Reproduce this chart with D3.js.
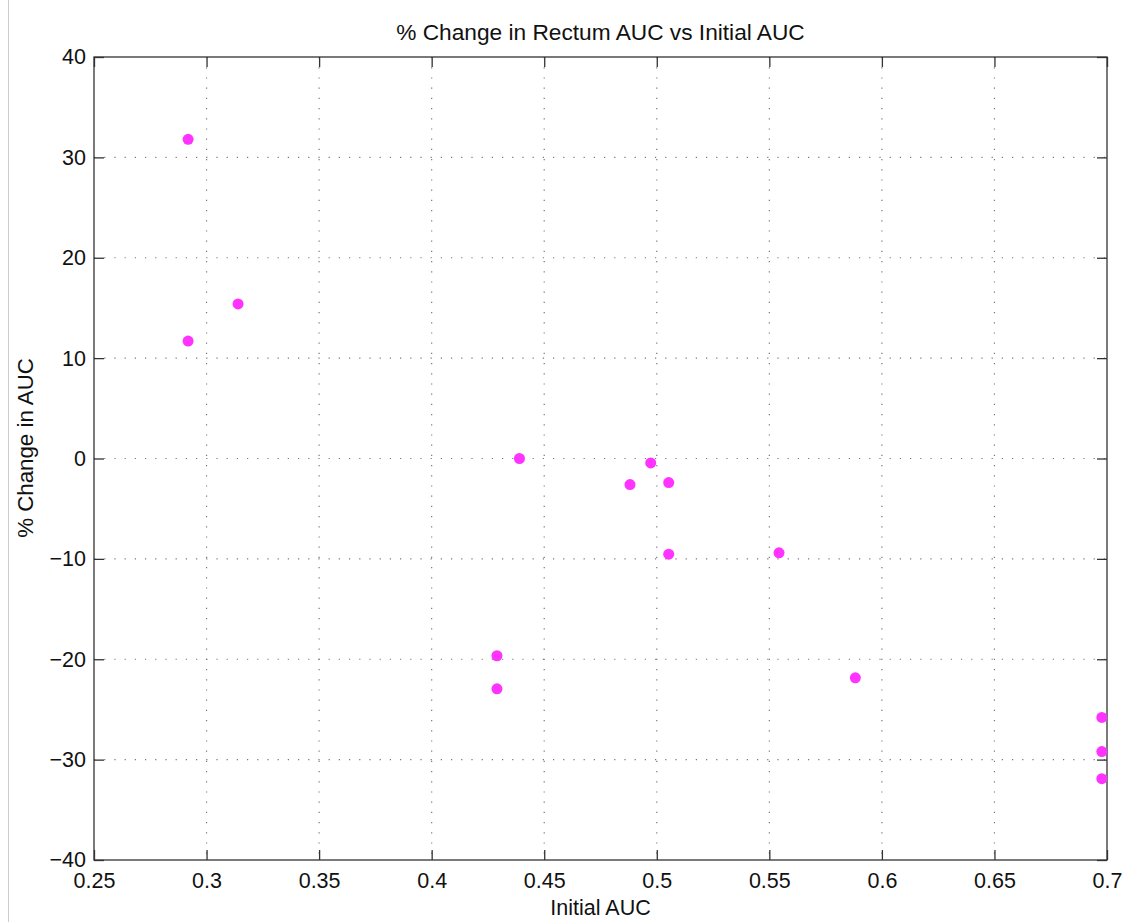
<!DOCTYPE html>
<html><head><meta charset="utf-8">
<script src="https://cdn.jsdelivr.net/npm/d3@7"></script>
<style>
body{margin:0;background:#fff;}
text{font-family:"Liberation Sans",Arial,Helvetica,sans-serif;fill:#111;}
</style></head>
<body><svg id="c" width="1132" height="922"></svg>
<script>
const xValues=[0.2918,0.2918,0.314,0.439,0.429,0.429,0.4881,0.4973,0.5053,0.5053,0.5543,0.5882,0.6977,0.6977,0.6977];
const yValues=[31.8,11.7,15.4,0.0,-19.65,-22.95,-2.6,-0.44,-2.4,-9.53,-9.4,-21.85,-25.8,-29.2,-31.9];
const xTicks=[0.25,0.3,0.35,0.4,0.45,0.5,0.55,0.6,0.65,0.7];
const yTicks=[-40,-30,-20,-10,0,10,20,30,40];
const title="% Change in Rectum AUC vs Initial AUC";
const xLabel="Initial AUC";
const yLabel="% Change in AUC";

const FS="21.5px";
const svg=d3.select("#c");
const L=94,R=1107,T=57,B=860;
const x=d3.scaleLinear().domain([0.25,0.7]).range([L,R]);
const y=d3.scaleLinear().domain([-40,40]).range([B,T]);

svg.append("line").attr("x1",8.5).attr("x2",8.5).attr("y1",0).attr("y2",922).attr("stroke","#ccc").attr("stroke-width",1);

// grid
const g=svg.append("g");
g.selectAll(".gx").data(xTicks.slice(1,-1)).enter().append("line")
 .attr("x1",d=>x(d)).attr("x2",d=>x(d)).attr("y1",T).attr("y2",B)
 .attr("stroke","#777").attr("stroke-width",1.2).attr("stroke-dasharray","1.2,9");
g.selectAll(".gy").data(yTicks.slice(1,-1)).enter().append("line")
 .attr("x1",L).attr("x2",R).attr("y1",d=>y(d)).attr("y2",d=>y(d))
 .attr("stroke","#777").attr("stroke-width",1.2).attr("stroke-dasharray","1.2,9");

const fmt=d=>String(d).replace("-","\u2212");
const ax=(gen,tr)=>svg.append("g").attr("transform",tr).call(gen);
const styleAxis=(sel,hide)=>{sel.select(".domain").remove();sel.selectAll("line").attr("stroke","#333").attr("stroke-width",1.3);
 sel.selectAll("text").style("font-size",FS).attr("fill","#111"); if(hide) sel.selectAll("text").remove();};
styleAxis(ax(d3.axisBottom(x).tickValues(xTicks).tickSize(-10).tickPadding(12.5).tickFormat(d=>d),`translate(0,${B})`));
styleAxis(ax(d3.axisTop(x).tickValues(xTicks).tickSize(-10),`translate(0,${T})`),true);
styleAxis(ax(d3.axisLeft(y).tickValues(yTicks).tickSize(-10).tickPadding(8).tickFormat(fmt),`translate(${L},0)`));
styleAxis(ax(d3.axisRight(y).tickValues(yTicks).tickSize(-10),`translate(${R},0)`),true);

svg.append("rect").attr("x",L).attr("y",T).attr("width",R-L).attr("height",B-T)
 .attr("fill","none").attr("stroke","#333").attr("stroke-width",1.3);

svg.selectAll(".pt").data(xValues.map((v,i)=>[v,yValues[i]])).enter().append("circle")
 .attr("cx",d=>x(d[0])).attr("cy",d=>y(d[1])).attr("r",5.5).attr("fill","#ff33ff");

svg.append("text").attr("x",(L+R)/2).attr("y",40).attr("text-anchor","middle").style("font-size","22.7px").text(title);
svg.append("text").attr("x",(L+R)/2).attr("y",915).attr("text-anchor","middle").style("font-size",FS).text(xLabel);
svg.append("text").attr("transform",`translate(33,448) rotate(-90)`).attr("text-anchor","middle").style("font-size","22.3px").text(yLabel);
</script></body></html>
